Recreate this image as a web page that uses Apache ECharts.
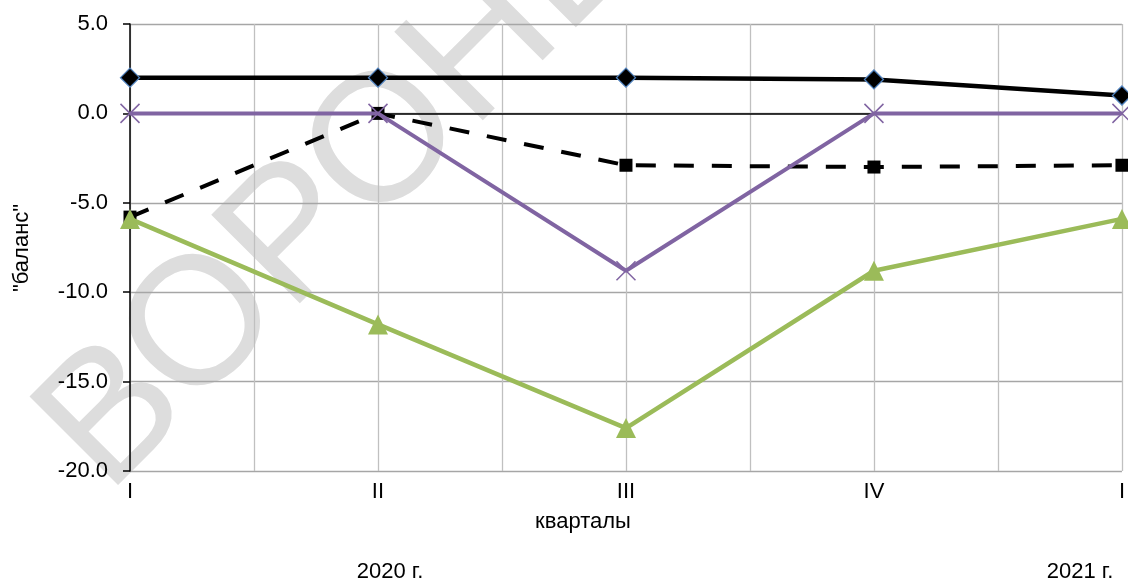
<!DOCTYPE html>
<html>
<head>
<meta charset="utf-8">
<script src="https://cdn.jsdelivr.net/npm/echarts@6/dist/echarts.min.js"></script>
<style>
html,body{margin:0;padding:0;background:#fff;}
#chart{width:1128px;height:582px;}
</style>
</head>
<body>
<div id="chart"></div>
<script>
const categories = ['I', 'II', 'III', 'IV', 'I'];
const yearLabels = ['2020 г.', '2021 г.'];
const seriesSolid = [2.0, 2.0, 2.0, 1.9, 1.0];
const seriesDashed = [-5.8, 0.0, -2.9, -3.0, -2.9];
const seriesPurple = [0.0, 0.0, -8.8, 0.0, 0.0];
const seriesGreen = [-5.9, -11.8, -17.6, -8.8, -5.9];
const yTicks = [-20, -15, -10, -5, 0, 5];

const toPts = arr => arr.map((v, i) => [i, v]);
const font = '"Liberation Sans", Arial, sans-serif';

const chart = echarts.init(document.getElementById('chart'));
chart.setOption({
  animation: false,
  backgroundColor: '#fff',
  grid: {left: 130, right: 1, top: 24, bottom: 111, containLabel: false},
  graphic: [
    {
      type: 'text', x: 72, y: 460, rotation: Math.PI / 4, z: -1,
      style: {text: 'ВОРОНЕЖ', fontSize: 182, fontWeight: 'normal', fontFamily: font, fill: '#dddddd',
              align: 'left', verticalAlign: 'middle'}
    },
    {type: 'text', x: 583, y: 522, style: {text: 'кварталы', fontSize: 22, fontFamily: font, fill: '#000', align: 'center', verticalAlign: 'middle'}},
    {type: 'text', x: 390, y: 572, style: {text: yearLabels[0], fontSize: 22, fontFamily: font, fill: '#000', align: 'center', verticalAlign: 'middle'}},
    {type: 'text', x: 1080, y: 572, style: {text: yearLabels[1], fontSize: 22, fontFamily: font, fill: '#000', align: 'center', verticalAlign: 'middle'}},
    {type: 'text', x: 22, y: 248, rotation: Math.PI / 2, style: {text: '"баланс"', fontSize: 22, fontFamily: font, fill: '#000', align: 'center', verticalAlign: 'middle'}}
  ],
  xAxis: [
    {
      type: 'value', min: 0, max: categories.length - 1, interval: 0.5,
      position: 'bottom',
      axisLine: {show: false, onZero: false},
      axisTick: {show: false},
      axisLabel: {
        fontSize: 22, fontFamily: font, color: '#000', margin: 10,
        formatter: v => Number.isInteger(v) ? categories[v] : ''
      },
      splitLine: {show: true, lineStyle: {color: '#c0c0c0', width: 1.3}}
    },
    {
      type: 'value', min: 0, max: categories.length - 1,
      axisLine: {show: true, onZero: true, lineStyle: {color: '#000', width: 1.5}},
      axisTick: {show: false}, axisLabel: {show: false}, splitLine: {show: false}
    }
  ],
  yAxis: {
    type: 'value', min: yTicks[0], max: yTicks[yTicks.length - 1], interval: 5,
    axisLine: {show: true, onZero: false, lineStyle: {color: '#000', width: 1.5}},
    axisTick: {show: true, length: 7, lineStyle: {color: '#000', width: 1.5}},
    axisLabel: {fontSize: 22, fontFamily: font, color: '#000', margin: 22, formatter: v => v.toFixed(1)},
    splitLine: {show: true, lineStyle: {color: '#a6a6a6', width: 1.3}}
  },
  series: [
    {
      type: 'line', data: toPts(seriesSolid), symbol: 'diamond', symbolSize: 19,
      lineStyle: {color: '#000', width: 4.5},
      itemStyle: {color: '#000', borderColor: '#4f81bd', borderWidth: 1.3}, z: 3
    },
    {
      type: 'line', data: toPts(seriesDashed), symbol: 'rect', symbolSize: 13,
      lineStyle: {color: '#000', width: 4, type: [20, 18]},
      itemStyle: {color: '#000'}, z: 4
    },
    {
      type: 'line', data: toPts(seriesPurple), symbol: 'path://M0,0L10,10M10,0L0,10', symbolSize: 19,
      lineStyle: {color: '#8064a2', width: 4},
      itemStyle: {color: 'rgba(0,0,0,0)', borderColor: '#8064a2', borderWidth: 1.5}, z: 5
    },
    {
      type: 'line', data: toPts(seriesGreen), symbol: 'triangle', symbolSize: 20,
      lineStyle: {color: '#9bbb59', width: 4.5},
      itemStyle: {color: '#9bbb59'}, z: 6
    }
  ]
});
</script>
</body>
</html>
